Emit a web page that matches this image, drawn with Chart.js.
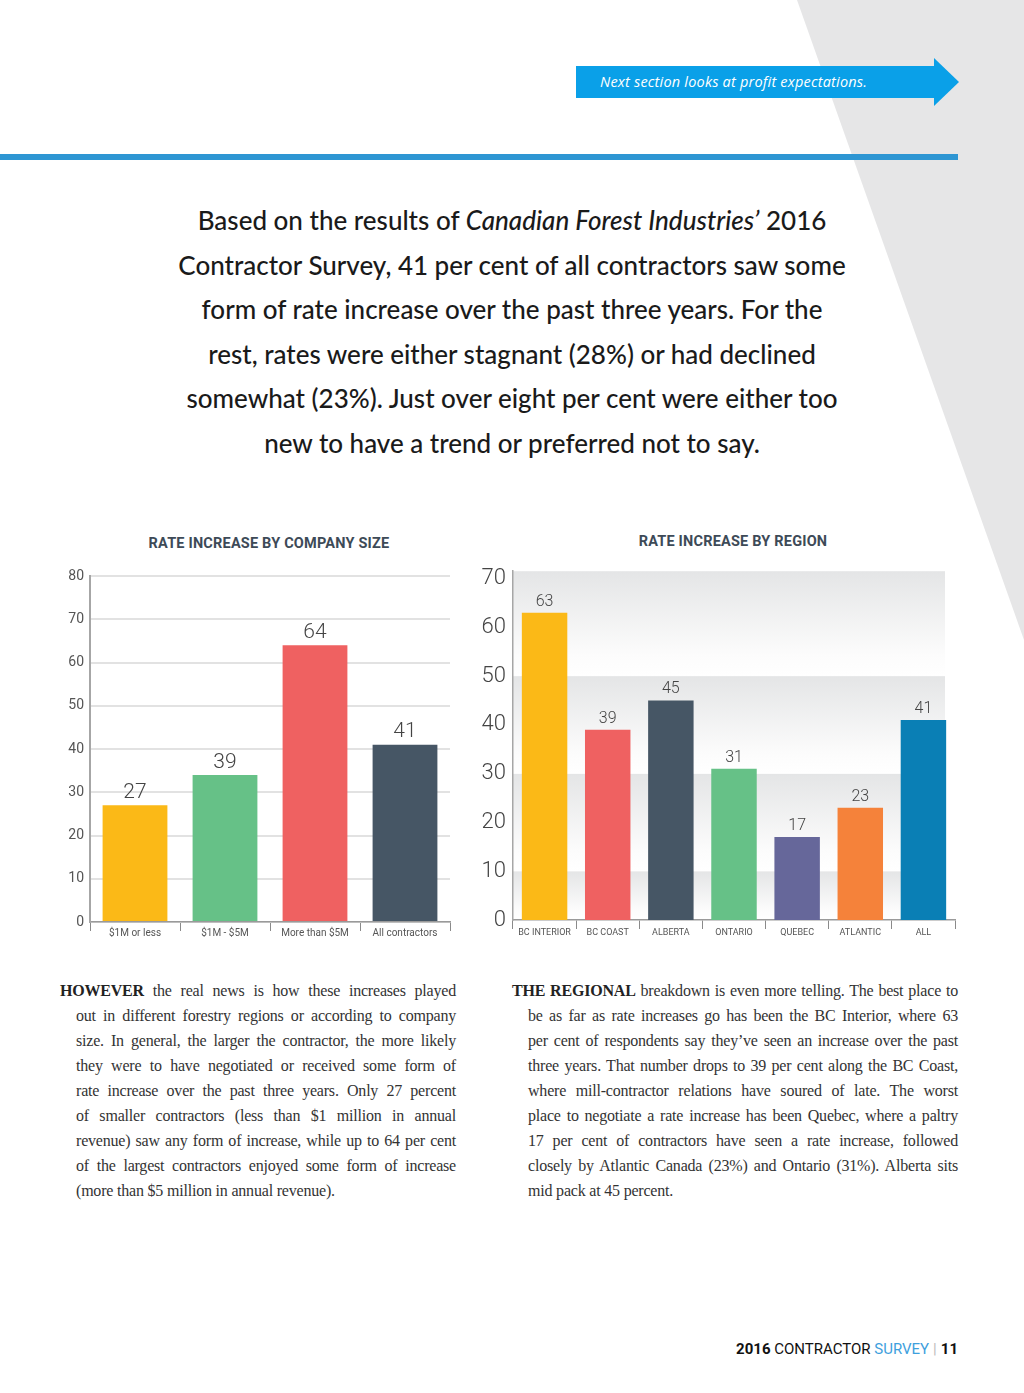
<!DOCTYPE html>
<html>
<head>
<meta charset="utf-8">
<script src="https://cdn.jsdelivr.net/npm/chart.js@4.4.0/dist/chart.umd.min.js"></script>
<style>
  html, body { margin: 0; padding: 0; background: #fff; }
  #page { position: relative; width: 1024px; height: 1393px; overflow: hidden; background: #fff; font-family: 'Roboto', sans-serif; }
  .diag { position: absolute; left: 0; top: 0; width: 1024px; height: 700px; background: #e6e6e7;
          clip-path: polygon(797px 0, 1024px 0, 1024px 640px); }
  .arrow-bar { position: absolute; left: 576px; top: 66px; width: 360px; height: 32px; background: #0aa0e8; }
  .arrow-head { position: absolute; left: 934px; top: 58px; width: 0; height: 0;
                border-top: 24px solid transparent; border-bottom: 24px solid transparent; border-left: 25px solid #0aa0e8; }
  .arrow-text { position: absolute; left: 600px; top: 72px; color: #fff; font: italic 14.5px 'Open Sans', sans-serif; letter-spacing: 0.2px; }
  .rule { position: absolute; left: 0; top: 154px; width: 958px; height: 6px; background: #2e96d3; }
  .intro { position: absolute; left: 112px; top: 198px; width: 800px; text-align: center;
           font: 500 26px 'Lato', sans-serif; line-height: 44.5px; color: #1a1a1a; }
  .ctitle { position: absolute; font: bold 14.5px 'Roboto', sans-serif; color: #3d4a57; text-align: center; letter-spacing: 0.2px; }
  .box { position: absolute; }
  .col { position: absolute; font: 16px 'Liberation Serif', serif; color: #333; line-height: 25px; letter-spacing: -0.2px; }
  .col div { text-align: justify; text-align-last: justify; white-space: nowrap; }
  .col div.in { margin-left: 16px; }
  .col div.end { text-align-last: left; }
  .col b { color: #222; }
  .foot { position: absolute; right: 66px; top: 1340px; font: 15px 'Roboto', sans-serif; color: #111; }
  .foot .blue { color: #3ea0dd; }
  .foot .sep { color: #bbb; margin: 0 4px; }
</style>
</head>
<body>
<div id="page">
  <div class="diag"></div>
  <div class="arrow-bar"></div>
  <div class="arrow-head"></div>
  <div class="arrow-text">Next section looks at profit expectations.</div>
  <div class="rule"></div>

  <div class="intro">
    Based on the results of <i>Canadian Forest Industries’</i> 2016<br>
    Contractor Survey, 41 per cent of all contractors saw some<br>
    form of rate increase over the past three years. For the<br>
    rest, rates were either stagnant (28%) or had declined<br>
    somewhat (23%). Just over eight per cent were either too<br>
    new to have a trend or preferred not to say.
  </div>

  <div class="ctitle" style="left:100px; top:535px; width:338px;">RATE INCREASE BY COMPANY SIZE</div>
  <div class="ctitle" style="left:564px; top:533px; width:338px;">RATE INCREASE BY REGION</div>

  <div class="box" style="left:40px; top:556px; width:420px; height:390px;"><canvas id="sizeChart"></canvas></div>
  <div class="box" style="left:470px; top:551px; width:500px; height:395px;"><canvas id="regionChart"></canvas></div>

  <div class="col" style="left:60px; top:978px; width:396px;">
    <div><b>HOWEVER</b> the real news is how these increases played</div>
    <div class="in">out in different forestry regions or according to company</div>
    <div class="in">size. In general, the larger the contractor, the more likely</div>
    <div class="in">they were to have negotiated or received some form of</div>
    <div class="in">rate increase over the past three years. Only 27 percent</div>
    <div class="in">of smaller contractors (less than $1 million in annual</div>
    <div class="in">revenue) saw any form of increase, while up to 64 per cent</div>
    <div class="in">of the largest contractors enjoyed some form of increase</div>
    <div class="in end">(more than $5 million in annual revenue).</div>
  </div>

  <div class="col" style="left:512px; top:978px; width:446px;">
    <div><b>THE REGIONAL</b> breakdown is even more telling. The best place to</div>
    <div class="in">be as far as rate increases go has been the BC Interior, where 63</div>
    <div class="in">per cent of respondents say they’ve seen an increase over the past</div>
    <div class="in">three years. That number drops to 39 per cent along the BC Coast,</div>
    <div class="in">where mill-contractor relations have soured of late. The worst</div>
    <div class="in">place to negotiate a rate increase has been Quebec, where a paltry</div>
    <div class="in">17 per cent of contractors have seen a rate increase, followed</div>
    <div class="in">closely by Atlantic Canada (23%) and Ontario (31%). Alberta sits</div>
    <div class="in end">mid pack at 45 percent.</div>
  </div>

  <div class="foot"><b>2016</b> CONTRACTOR <span class="blue">SURVEY</span><span class="sep">|</span><b>11</b></div>
</div>

<script>
// Rate increase by company size
const sizeCategories = ['$1M or less', '$1M - $5M', 'More than $5M', 'All contractors'];
const sizeValues = [27, 34, 64, 41];          // bar heights as drawn
const sizeLabels = ['27', '39', '64', '41'];  // numbers printed above bars
const sizeColors = ['#fbb917', '#66c187', '#ef6161', '#465665'];
const sizeTicks = [0, 10, 20, 30, 40, 50, 60, 70, 80];

// Rate increase by region
const regionCategories = ['BC INTERIOR', 'BC COAST', 'ALBERTA', 'ONTARIO', 'QUEBEC', 'ATLANTIC', 'ALL'];
const regionValues = [63, 39, 45, 31, 17, 23, 41];
const regionColors = ['#fbb917', '#ef6161', '#465665', '#66c187', '#66679a', '#f5823a', '#0a7fb5'];
const regionTicks = [0, 10, 20, 30, 40, 50, 60, 70];
const regionMax = 71.5;
const regionBands = [0, 10, 30, 50, 71.5];

// numbers above the bars
const valueLabels = {
  id: 'valueLabels',
  afterDatasetsDraw(chart, args, opts) {
    const ctx = chart.ctx;
    const meta = chart.getDatasetMeta(0);
    ctx.save();
    ctx.font = opts.font;
    ctx.fillStyle = opts.color;
    ctx.textAlign = 'center';
    ctx.textBaseline = 'bottom';
    meta.data.forEach((bar, i) => {
      ctx.fillText(opts.labels[i], bar.x, bar.y - opts.gap);
    });
    ctx.restore();
  }
};

// fading grey bands behind the region chart
const bandBackground = {
  id: 'bandBackground',
  beforeDraw(chart, args, opts) {
    if (!opts.bands) return;
    const ctx = chart.ctx;
    const area = chart.chartArea;
    const y = chart.scales.y;
    ctx.save();
    for (let i = 0; i < opts.bands.length - 1; i++) {
      const top = y.getPixelForValue(opts.bands[i + 1]);
      const bottom = y.getPixelForValue(opts.bands[i]);
      const g = ctx.createLinearGradient(0, top, 0, bottom);
      g.addColorStop(0, '#e4e5e6');
      g.addColorStop(0.8, '#fcfcfc');
      g.addColorStop(1, '#ffffff');
      ctx.fillStyle = g;
      ctx.fillRect(area.left, top, area.right - area.left - 10, bottom - top);
    }
    ctx.restore();
  }
};

function fixedTicks(list) {
  return scale => { scale.ticks = list.map(v => ({ value: v })); };
}

function initSizeChart() {
  new Chart(document.getElementById('sizeChart'), {
    type: 'bar',
    data: {
      labels: sizeCategories,
      datasets: [{
        data: sizeValues,
        backgroundColor: sizeColors,
        barPercentage: 0.72,
        categoryPercentage: 1
      }]
    },
    plugins: [valueLabels],
    options: {
      responsive: true,
      maintainAspectRatio: false,
      animation: false,
      layout: { padding: { top: 20, right: 10, left: 0, bottom: 0 } },
      plugins: {
        legend: { display: false },
        tooltip: { enabled: false },
        valueLabels: { labels: sizeLabels, font: '300 21px Roboto, sans-serif', color: '#444', gap: 2 }
      },
      scales: {
        x: {
          afterFit: s => { s.height = 24; },
          grid: { offset: true, drawOnChartArea: false, tickLength: 9, color: '#8a8a8a', lineWidth: 1 },
          border: { color: '#9a9a9a', width: 1.5 },
          ticks: { color: '#555', font: { family: 'Roboto', size: 10 }, padding: -4 }
        },
        y: {
          min: 0,
          max: sizeTicks[sizeTicks.length - 1],
          afterFit: s => { s.width = 50; },
          afterBuildTicks: fixedTicks(sizeTicks),
          ticks: { color: '#555', font: { family: 'Roboto', size: 14 }, padding: 6 },
          grid: { color: '#e2e2e2', lineWidth: 2, drawTicks: false },
          border: { color: '#a6a6a6', width: 2 }
        }
      }
    }
  });
}

function initRegionChart() {
  new Chart(document.getElementById('regionChart'), {
    type: 'bar',
    data: {
      labels: regionCategories,
      datasets: [{
        data: regionValues,
        backgroundColor: regionColors,
        barPercentage: 0.72,
        categoryPercentage: 1
      }]
    },
    plugins: [bandBackground, valueLabels],
    options: {
      responsive: true,
      maintainAspectRatio: false,
      animation: false,
      layout: { padding: { top: 10, right: 15, left: 0, bottom: 0 } },
      plugins: {
        legend: { display: false },
        tooltip: { enabled: false },
        bandBackground: { bands: regionBands },
        valueLabels: { labels: regionValues.map(String), font: '300 16px Roboto, sans-serif', color: '#444', gap: 3 }
      },
      scales: {
        x: {
          afterFit: s => { s.height = 26; },
          grid: { offset: true, drawOnChartArea: false, tickLength: 9, color: '#8a8a8a', lineWidth: 1 },
          border: { color: '#9a9a9a', width: 1.5 },
          ticks: { color: '#555', font: { family: 'Roboto', size: 9 }, padding: -2 }
        },
        y: {
          min: 0,
          max: regionMax,
          afterFit: s => { s.width = 43; },
          afterBuildTicks: fixedTicks(regionTicks),
          ticks: { color: '#444', font: { family: 'Roboto', size: 22, weight: '300' }, padding: 7 },
          grid: { display: false, drawTicks: false },
          border: { color: '#a6a6a6', width: 1.5 }
        }
      }
    }
  });
}

initSizeChart();
initRegionChart();
</script>
</body>
</html>
